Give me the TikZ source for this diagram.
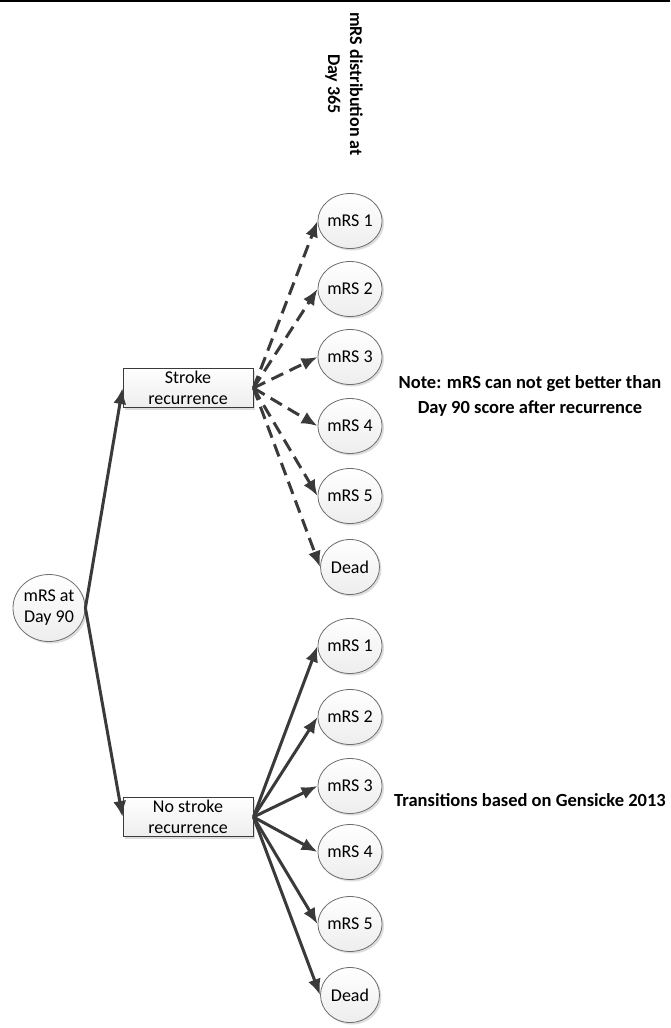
\documentclass[tikz,border=0pt]{standalone}
\usepackage{fontspec}
\setmainfont{Carlito}
\usetikzlibrary{shapes.geometric,shadows,arrows.meta}
\definecolor{edgec}{HTML}{3A3A3A}
\definecolor{rimc}{HTML}{6E6E6E}
\tikzset{
  state/.style={ellipse, draw=rimc, line width=0.8pt, minimum width=59pt, minimum height=55pt, inner sep=0pt,
    top color=white, bottom color=gray!14, drop shadow={shadow xshift=2pt, shadow yshift=-2pt, fill=gray!45, opacity=0.6},
    font=\fontsize{18}{21}\selectfont, align=center},
  bigstate/.style={state, minimum width=72pt, minimum height=67pt},
  branch/.style={rectangle, draw=edgec, line width=0.9pt, minimum width=130pt, minimum height=39pt, inner sep=0pt,
    top color=white, bottom color=gray!14, drop shadow={shadow xshift=2pt, shadow yshift=-2pt, fill=gray!45, opacity=0.6},
    font=\fontsize{18}{21}\selectfont, align=center},
  conn/.style={draw=edgec, line width=3pt, -{Latex[length=16pt,width=13pt]}},
  dconn/.style={conn, dash pattern=on 13pt off 7pt},
  note/.style={font=\bfseries\fontsize{18.5}{25}\selectfont, align=center},
}
\begin{document}
\begin{tikzpicture}[x=1pt,y=-1pt]
\useasboundingbox (0,0) rectangle (670,1028);
\coordinate (tl) at (0,1);
\coordinate (tr) at (670,1);
\draw[line width=2pt] (tl) -- (tr);

\node[note, rotate=-90, font=\bfseries\fontsize{18}{22}\selectfont] (title) at (344,84) {mRS distribution at\\Day 365};

\node[bigstate] (d90) at (49,608) {mRS at\\Day 90};
\node[branch] (sr) at (188,388) {Stroke\\recurrence};
\node[branch] (nsr) at (188,817) {No stroke\\recurrence};

\node[state] (a1) at (350,221) {mRS 1};
\node[state] (a2) at (350,289) {mRS 2};
\node[state] (a3) at (350,357) {mRS 3};
\node[state] (a4) at (350,426) {mRS 4};
\node[state] (a5) at (350,496) {mRS 5};
\node[state] (a6) at (350,567) {Dead};

\node[state] (b1) at (350,646) {mRS 1};
\node[state] (b2) at (350,717) {mRS 2};
\node[state] (b3) at (350,786) {mRS 3};
\node[state] (b4) at (350,852) {mRS 4};
\node[state] (b5) at (350,924) {mRS 5};
\node[state] (b6) at (350,995) {Dead};

\node[note] (n1) at (530,396) {Note: mRS can not get better than\\Day 90 score after recurrence};
\node[note] (n2) at (530,800) {Transitions based on Gensicke 2013};

\draw[conn] (d90.east) -- (sr.west);
\draw[conn] (d90.east) -- (nsr.west);

\foreach \n in {a1,a2,a3,a4,a5,a6}{\draw[dconn] (sr.east) -- (\n.west);}
\foreach \n in {b1,b2,b3,b4,b5,b6}{\draw[conn] (nsr.east) -- (\n.west);}
\end{tikzpicture}
\end{document}
